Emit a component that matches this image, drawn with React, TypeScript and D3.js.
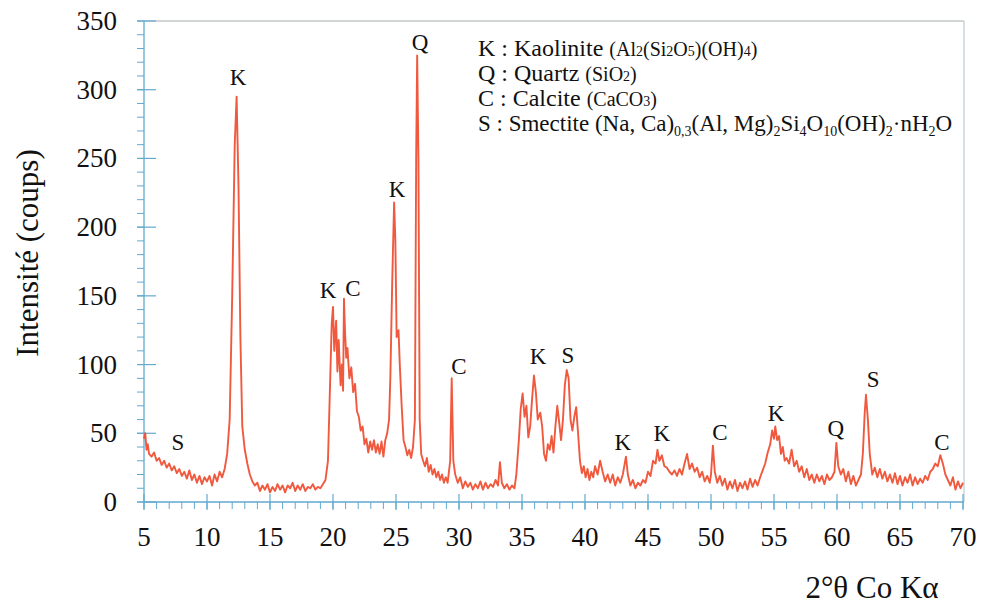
import React from "react";
import * as d3 from "d3";

// XRD pattern: [2θ (°), intensity (counts)]
const pattern: [number, number][] = [
  [5.0, 46], [5.1, 50], [5.2, 38], [5.3, 42], [5.4, 35], [5.6, 33], [5.8, 36], [6.0, 30], [6.2, 32], [6.4, 27], [6.6, 30],
  [6.8, 25], [7.0, 28], [7.2, 23], [7.4, 26], [7.6, 21], [7.8, 24], [8.0, 19], [8.2, 22], [8.4, 17], [8.6, 23],
  [8.8, 16], [9.0, 20], [9.2, 14], [9.4, 19], [9.6, 13], [9.8, 18], [10.0, 15], [10.2, 19], [10.4, 12], [10.6, 20],
  [10.8, 15], [11.0, 22], [11.2, 18], [11.4, 24], [11.6, 35], [11.8, 60], [12.0, 150], [12.2, 260], [12.35, 295],
  [12.5, 230], [12.65, 120], [12.8, 55], [13.0, 38], [13.2, 28], [13.4, 20], [13.6, 15], [13.8, 12], [14.0, 14],
  [14.2, 8], [14.4, 12], [14.6, 9], [14.8, 13], [15.0, 7], [15.2, 11], [15.4, 8], [15.6, 13], [15.8, 9], [16.0, 12],
  [16.2, 7], [16.4, 12], [16.6, 10], [16.8, 14], [17.0, 8], [17.2, 12], [17.4, 9], [17.6, 13], [17.8, 8], [18.0, 11],
  [18.2, 10], [18.4, 13], [18.6, 9], [18.8, 11], [19.0, 10], [19.2, 13], [19.4, 16], [19.6, 30], [19.75, 80],
  [19.9, 130], [20.0, 142], [20.1, 110], [20.25, 132], [20.35, 95], [20.45, 118], [20.6, 85], [20.7, 100], [20.8, 81],
  [20.87, 148], [20.95, 125], [21.05, 105], [21.15, 112], [21.3, 90], [21.45, 98], [21.6, 80], [21.75, 86], [21.9, 66],
  [22.05, 62], [22.2, 52], [22.35, 55], [22.5, 42], [22.65, 46], [22.8, 36], [22.95, 44], [23.1, 38], [23.25, 45],
  [23.4, 36], [23.55, 42], [23.7, 35], [23.85, 44], [24.0, 33], [24.15, 45], [24.3, 50], [24.45, 60], [24.55, 90],
  [24.7, 160], [24.85, 218], [24.95, 190], [25.05, 120], [25.2, 125], [25.3, 100], [25.45, 70], [25.6, 45], [25.75, 40],
  [25.9, 34], [26.05, 38], [26.2, 32], [26.35, 40], [26.5, 60], [26.6, 250], [26.68, 325], [26.78, 250], [26.88, 60],
  [27.0, 35], [27.15, 30], [27.3, 26], [27.45, 32], [27.6, 22], [27.75, 27], [27.9, 20], [28.05, 24], [28.2, 18],
  [28.35, 22], [28.5, 16], [28.65, 20], [28.8, 14], [28.95, 18], [29.1, 14], [29.3, 30], [29.42, 90], [29.55, 30],
  [29.7, 20], [29.9, 14], [30.1, 18], [30.3, 10], [30.5, 15], [30.7, 11], [30.9, 14], [31.1, 9], [31.3, 13], [31.5, 10],
  [31.7, 15], [31.9, 9], [32.1, 14], [32.3, 10], [32.5, 13], [32.7, 11], [32.9, 16], [33.1, 12], [33.25, 29], [33.4, 14],
  [33.6, 10], [33.8, 13], [34.0, 9], [34.2, 12], [34.4, 10], [34.55, 20], [34.75, 45], [34.9, 68], [35.05, 79], [35.2, 62],
  [35.35, 70], [35.5, 47], [35.65, 55], [35.8, 75], [35.95, 92], [36.1, 80], [36.25, 60], [36.45, 65], [36.6, 55],
  [36.75, 35], [36.9, 30], [37.05, 42], [37.2, 38], [37.35, 48], [37.5, 36], [37.65, 55], [37.8, 70], [37.95, 58],
  [38.1, 45], [38.25, 60], [38.4, 85], [38.55, 96], [38.7, 90], [38.85, 60], [39.0, 52], [39.15, 62], [39.3, 69],
  [39.45, 50], [39.6, 30], [39.75, 21], [39.9, 26], [40.05, 18], [40.2, 24], [40.35, 16], [40.5, 22], [40.65, 18],
  [40.8, 26], [41.0, 20], [41.2, 30], [41.4, 22], [41.6, 15], [41.8, 20], [42.0, 14], [42.2, 20], [42.4, 12], [42.6, 18],
  [42.8, 14], [43.0, 20], [43.25, 33], [43.4, 20], [43.6, 12], [43.8, 16], [44.0, 10], [44.2, 14], [44.4, 12], [44.6, 16],
  [44.8, 14], [45.0, 22], [45.2, 19], [45.4, 30], [45.6, 28], [45.75, 38], [45.9, 30], [46.1, 34], [46.3, 26], [46.5, 25],
  [46.7, 22], [46.9, 20], [47.1, 23], [47.3, 19], [47.5, 24], [47.7, 20], [47.9, 28], [48.1, 35], [48.3, 24], [48.5, 28],
  [48.7, 22], [48.9, 25], [49.1, 18], [49.3, 22], [49.5, 15], [49.7, 19], [49.9, 14], [50.0, 20], [50.15, 41], [50.3, 22],
  [50.5, 14], [50.7, 19], [50.9, 12], [51.1, 17], [51.3, 9], [51.5, 15], [51.7, 10], [51.9, 16], [52.1, 8], [52.3, 14],
  [52.5, 10], [52.7, 15], [52.9, 9], [53.1, 17], [53.3, 11], [53.5, 16], [53.7, 12], [53.9, 18], [54.1, 23], [54.3, 28],
  [54.5, 36], [54.7, 42], [54.85, 52], [55.0, 46], [55.1, 55], [55.25, 45], [55.4, 48], [55.55, 35], [55.7, 40],
  [55.85, 30], [56.0, 32], [56.2, 28], [56.4, 38], [56.6, 26], [56.8, 30], [57.0, 22], [57.2, 26], [57.4, 18], [57.6, 24],
  [57.8, 16], [58.0, 20], [58.2, 14], [58.4, 20], [58.6, 15], [58.8, 19], [59.0, 13], [59.2, 20], [59.4, 16], [59.6, 18],
  [59.8, 22], [59.95, 43], [60.1, 26], [60.3, 20], [60.5, 24], [60.7, 15], [60.9, 22], [61.1, 13], [61.3, 19], [61.5, 12],
  [61.7, 16], [61.9, 20], [62.05, 35], [62.2, 65], [62.3, 78], [62.45, 60], [62.6, 35], [62.8, 20], [63.0, 25], [63.2, 18],
  [63.4, 24], [63.6, 17], [63.8, 22], [64.0, 15], [64.2, 20], [64.4, 14], [64.6, 21], [64.8, 13], [65.0, 19], [65.2, 12],
  [65.4, 18], [65.6, 14], [65.8, 20], [66.0, 12], [66.2, 18], [66.4, 13], [66.6, 17], [66.8, 14], [67.0, 19], [67.2, 16],
  [67.4, 22], [67.6, 24], [67.8, 28], [68.0, 26], [68.2, 34], [68.4, 28], [68.6, 20], [68.8, 16], [69.0, 12], [69.2, 18],
  [69.4, 9], [69.6, 15], [69.8, 10], [70.0, 14],
];

// Peak annotations: mineral letter, 2θ position, label height (counts)
const peakLabels: [string, number, number][] = [
  ["S", 7.7, 44], ["K", 12.46, 309], ["K", 19.6, 154], ["C", 21.59, 156], ["K", 25.08, 228], ["Q", 26.9, 335],
  ["C", 30.0, 99], ["K", 36.27, 106], ["S", 38.65, 107], ["K", 43.0, 44], ["K", 46.1, 50], ["C", 50.71, 51],
  ["K", 55.16, 65], ["Q", 59.9, 54], ["S", 62.86, 89.5], ["C", 68.33, 44],
];

const xTicks = [5, 10, 15, 20, 25, 30, 35, 40, 45, 50, 55, 60, 65, 70];
const yTicks = [0, 50, 100, 150, 200, 250, 300, 350];
const xTitle = "2°θ Co Kα";
const yTitle = "Intensité (coups)";

const W = 981, H = 608;
const M = { left: 144, right: 963, top: 21, bottom: 502 };
const AXIS = "#62a9cf";
const LINE = "#ef4b2e";
const SERIF = "'Liberation Serif', 'Times New Roman', serif";

export default function App() {
  const x = d3.scaleLinear().domain([5, 70]).range([M.left, M.right]);
  const y = d3.scaleLinear().domain([0, 350]).range([M.bottom, M.top]);
  const line = d3.line<[number, number]>().x(d => x(d[0])).y(d => y(d[1]));
  const xMinor = d3.range(5, 70.001, 1);
  const yMinor = d3.range(0, 350.001, 10);

  return (
    <svg width={W} height={H} style={{ position: "absolute", left: 0, top: 0, background: "#fff" }} fontFamily={SERIF}>
      {/* frame top & right */}
      <line x1={M.left} x2={M.right + 1} y1={M.top} y2={M.top} stroke="#c4c8ca" strokeWidth={1.5} />
      <line x1={M.right + 1} x2={M.right + 1} y1={M.top} y2={M.bottom} stroke="#c6d6de" strokeWidth={1.5} />

      {/* y axis */}
      <line x1={M.left} x2={M.left} y1={M.top} y2={M.bottom} stroke={AXIS} strokeWidth={1.3} />
      {yMinor.map(v => (
        <line key={"ym" + v} x1={M.left - 7} x2={M.left} y1={y(v)} y2={y(v)} stroke={AXIS} strokeWidth={1} />
      ))}
      {yTicks.map(v => (
        <g key={"y" + v}>
          <line x1={M.left - 7} x2={M.left + 12} y1={y(v)} y2={y(v)} stroke={AXIS} strokeWidth={1.2} />
          <text x={117} y={y(v) + 9} textAnchor="end" fontSize={27} fill="#111">{v}</text>
        </g>
      ))}

      {/* x axis */}
      <line x1={M.left} x2={M.right + 1} y1={M.bottom} y2={M.bottom} stroke={AXIS} strokeWidth={1.3} />
      {xMinor.map(v => (
        <line key={"xm" + v} x1={x(v)} x2={x(v)} y1={M.bottom} y2={M.bottom + 7} stroke={AXIS} strokeWidth={1} />
      ))}
      {xTicks.map(v => (
        <g key={"x" + v}>
          <line x1={x(v)} x2={x(v)} y1={M.bottom - 8} y2={M.bottom + 8} stroke={AXIS} strokeWidth={1.2} />
          <text x={x(v)} y={546} textAnchor="middle" fontSize={27} fill="#111">{v}</text>
        </g>
      ))}

      {/* data */}
      <path d={line(pattern) || ""} fill="none" stroke={LINE} strokeWidth={1.9} strokeLinejoin="round" opacity={0.92} />

      {/* peak labels */}
      {peakLabels.map(([t, a, v], i) => (
        <text key={"p" + i} x={x(a)} y={y(v) + 8} textAnchor="middle" fontSize={23} fill="#111">{t}</text>
      ))}

      {/* legend */}
      <g fill="#111" fontSize={24}>
        <text x={478} y={56}>K : Kaolinite <tspan fontSize={20}>(Al<tspan fontSize={14}>2</tspan>(Si<tspan fontSize={14}>2</tspan>O<tspan fontSize={14}>5</tspan>)(OH)<tspan fontSize={14}>4</tspan>)</tspan></text>
        <text x={478} y={81}>Q : Quartz <tspan fontSize={20}>(SiO<tspan fontSize={14}>2</tspan>)</tspan></text>
        <text x={478} y={106}>C : Calcite <tspan fontSize={20}>(CaCO<tspan fontSize={14}>3</tspan>)</tspan></text>
        <text x={478} y={131} fontSize={23}>S : Smectite (Na, Ca)<tspan fontSize={14} dy={5}>0,3</tspan><tspan dy={-5}>(Al, Mg)</tspan><tspan fontSize={14} dy={5}>2</tspan><tspan dy={-5}>Si</tspan><tspan fontSize={14} dy={5}>4</tspan><tspan dy={-5}>O</tspan><tspan fontSize={14} dy={5}>10</tspan><tspan dy={-5}>(OH)</tspan><tspan fontSize={14} dy={5}>2</tspan><tspan dy={-5}>·nH</tspan><tspan fontSize={14} dy={5}>2</tspan><tspan dy={-5}>O</tspan></text>
      </g>

      {/* axis titles */}
      <text x={872} y={598} textAnchor="middle" fontSize={31} fill="#111">{xTitle}</text>
      <text transform={`translate(38, ${253}) rotate(-90)`} textAnchor="middle" fontSize={31} fill="#111">{yTitle}</text>
    </svg>
  );
}
